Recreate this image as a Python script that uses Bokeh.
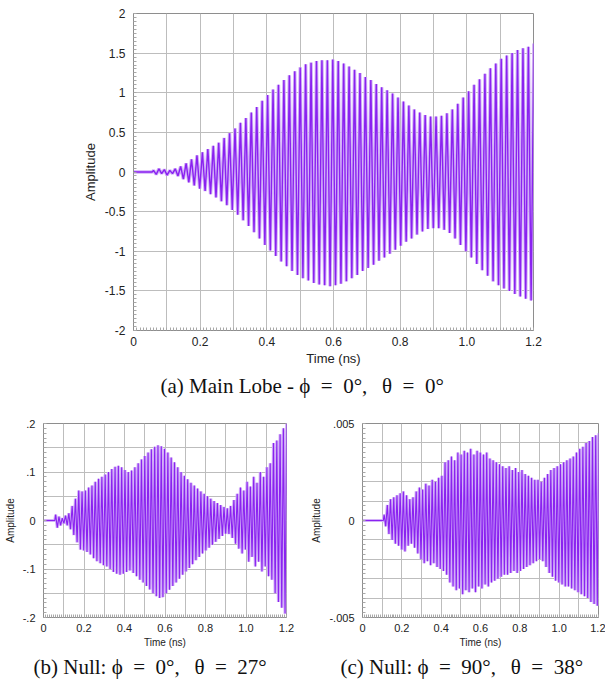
import numpy as np
from bokeh.plotting import figure
from bokeh.models import FixedTicker, LinearAxis, Range1d, Title
from bokeh.layouts import column, row
from bokeh.embed import file_html
from bokeh.resources import INLINE

# carrier period (ns between successive maxima)
period_ns = 0.0163

# (a) Main lobe: per-cycle positive and negative peaks
a_start = 0.06
a_upper = [0.02, 0.04, 0.03, 0.02, 0.04, 0.07, 0.11, 0.16, 0.21, 0.25,
           0.29, 0.33, 0.37, 0.43, 0.49, 0.55, 0.62, 0.68, 0.75, 0.82,
           0.90, 0.97, 1.04, 1.10, 1.16, 1.22, 1.27, 1.32, 1.36, 1.38,
           1.40, 1.41, 1.41, 1.42, 1.40, 1.37, 1.33, 1.29, 1.25, 1.20,
           1.16, 1.11, 1.07, 1.03, 0.99, 0.94, 0.89, 0.84, 0.79, 0.75,
           0.72, 0.70, 0.70, 0.71, 0.74, 0.79, 0.86, 0.94, 1.02, 1.10,
           1.17, 1.24, 1.31, 1.37, 1.43, 1.47, 1.50, 1.54, 1.56, 1.58, 1.62]
a_lower = [-0.03, -0.02, -0.04, -0.02, -0.05, -0.09, -0.13, -0.17, -0.21, -0.24,
           -0.28, -0.32, -0.37, -0.42, -0.48, -0.54, -0.61, -0.68, -0.76, -0.84,
           -0.92, -0.99, -1.06, -1.13, -1.19, -1.25, -1.30, -1.34, -1.37, -1.40,
           -1.42, -1.43, -1.44, -1.43, -1.41, -1.38, -1.34, -1.30, -1.25, -1.21,
           -1.17, -1.12, -1.08, -1.03, -0.98, -0.93, -0.88, -0.84, -0.79, -0.75,
           -0.72, -0.71, -0.71, -0.73, -0.77, -0.84, -0.92, -1.00, -1.08, -1.16,
           -1.24, -1.31, -1.38, -1.43, -1.47, -1.50, -1.54, -1.57, -1.60, -1.62, -1.65]

# (b) Null phi=0, theta=27
b_start = 0.06
b_upper = [0.012, 0.008, 0.005, 0.010, 0.015, 0.030, 0.045, 0.062, 0.060, 0.062,
           0.068, 0.072, 0.080, 0.086, 0.090, 0.095, 0.100, 0.106, 0.111, 0.113,
           0.110, 0.104, 0.100, 0.103, 0.110, 0.118, 0.126, 0.133, 0.140, 0.147,
           0.152, 0.155, 0.153, 0.148, 0.140, 0.130, 0.120, 0.110, 0.100, 0.092,
           0.085, 0.078, 0.072, 0.066, 0.060, 0.055, 0.050, 0.045, 0.040, 0.036,
           0.032, 0.028, 0.025, 0.030, 0.042, 0.055, 0.068, 0.062, 0.080, 0.070,
           0.090, 0.078, 0.100, 0.090, 0.110, 0.118, 0.160, 0.165, 0.178, 0.190, 0.200]
b_lower = [-0.015, -0.010, -0.006, -0.010, -0.018, -0.030, -0.045, -0.060, -0.062, -0.065,
           -0.070, -0.078, -0.084, -0.088, -0.092, -0.095, -0.100, -0.106, -0.110, -0.112,
           -0.110, -0.106, -0.103, -0.108, -0.115, -0.122, -0.128, -0.135, -0.142, -0.150,
           -0.156, -0.160, -0.158, -0.150, -0.143, -0.135, -0.128, -0.120, -0.112, -0.105,
           -0.098, -0.090, -0.082, -0.075, -0.068, -0.062, -0.056, -0.050, -0.044, -0.038,
           -0.032, -0.027, -0.028, -0.036, -0.048, -0.058, -0.068, -0.060, -0.085, -0.075,
           -0.095, -0.085, -0.105, -0.095, -0.115, -0.122, -0.150, -0.168, -0.180, -0.192, -0.195]

# (c) Null phi=90, theta=38
c_start = 0.11
c_upper = [0.0003, 0.0008, 0.0011, 0.0012, 0.0013, 0.0014, 0.0015, 0.0013, 0.0011, 0.0012,
           0.0015, 0.0017, 0.0016, 0.0019, 0.0018, 0.0021, 0.0020, 0.0022, 0.0023, 0.0030,
           0.0031, 0.0033, 0.0031, 0.0035, 0.0034, 0.0036, 0.0035, 0.0037, 0.0034, 0.0036,
           0.0035, 0.0034, 0.0035, 0.0032, 0.0031, 0.0030, 0.0029, 0.0028, 0.0027, 0.0028,
           0.0026, 0.0027, 0.0025, 0.0026, 0.0024, 0.0023, 0.0022, 0.0021, 0.0021, 0.0020,
           0.0022, 0.0024, 0.0026, 0.0027, 0.0028, 0.0029, 0.0030, 0.0031, 0.0032, 0.0033,
           0.0035, 0.0037, 0.0038, 0.0040, 0.0041, 0.0043, 0.0044, 0.0045]
c_lower = [-0.0003, -0.0007, -0.0010, -0.0012, -0.0013, -0.0015, -0.0016, -0.0013, -0.0012, -0.0014,
           -0.0017, -0.0020, -0.0022, -0.0021, -0.0023, -0.0022, -0.0024, -0.0025, -0.0026, -0.0028,
           -0.0032, -0.0034, -0.0036, -0.0035, -0.0038, -0.0036, -0.0037, -0.0035, -0.0037, -0.0034,
           -0.0035, -0.0033, -0.0034, -0.0032, -0.0031, -0.0030, -0.0029, -0.0028, -0.0028, -0.0027,
           -0.0026, -0.0027, -0.0026, -0.0025, -0.0024, -0.0023, -0.0022, -0.0021, -0.0020, -0.0021,
           -0.0024, -0.0027, -0.0029, -0.0031, -0.0032, -0.0033, -0.0034, -0.0034, -0.0035, -0.0036,
           -0.0037, -0.0038, -0.0039, -0.0040, -0.0042, -0.0043, -0.0044, -0.0046]

x_ticks = [0, 0.2, 0.4, 0.6, 0.8, 1.0, 1.2]
x_tick_labels = ["0", "0.2", "0.4", "0.6", "0.8", "1.0", "1.2"]
a_y_ticks = [2, 1.5, 1, 0.5, 0, -0.5, -1, -1.5, -2]
a_y_labels = ["2", "1.5", "1", "0.5", "0", "-0.5", "-1", "-1.5", "-2"]
b_y_ticks = [0.2, 0.1, 0, -0.1, -0.2]
b_y_labels = [".2", ".1", "0", "-.1", "-.2"]
c_y_ticks = [0.005, 0, -0.005]
c_y_labels = [".005", "0", "-.005"]

EN = "\u2002"
GAP = "\u2002\u2009"
captions = [f"(a) Main Lobe - \u03d5{EN}={EN}0\u00b0,{GAP}\u03b8{EN}={EN}0\u00b0",
            f"(b) Null: \u03d5{EN}={EN}0\u00b0,{GAP}\u03b8{EN}={EN}27\u00b0",
            f"(c) Null: \u03d5{EN}={EN}90\u00b0,{GAP}\u03b8{EN}={EN}38\u00b0"]

WAVE = "#8a22f0"
WAVE_LIGHT = "#d2b0f8"
GRID = "#bdbdbd"
FRAME = "#8e8e8e"
SANS = "Liberation Sans"
SERIF = "Liberation Serif"


def waveform(t0, upper, lower):
    xs = [0.0, t0 - period_ns / 4]
    ys = [0.0, 0.0]
    for k, (u, l) in enumerate(zip(upper, lower)):
        xs += [t0 + k * period_ns, t0 + (k + 0.5) * period_ns]
        ys += [u, l]
    return xs, ys


def make_fig(width, height, bl, br, bt, bb, ylim, yt, ylab, ygrid, yminor,
             tick_fs, lab_fs, cap, cap_off, cap_fs, cap_standoff):
    p = figure(width=width, height=height, output_backend="svg", toolbar_location=None,
               x_range=Range1d(0, 1.2), y_range=Range1d(*ylim),
               min_border_left=bl, min_border_right=br, min_border_top=bt,
               min_border_bottom=bb, x_axis_label="Time (ns)", y_axis_label="Amplitude")
    p.outline_line_color = FRAME
    p.outline_line_width = 1
    xminor = [round(i * 0.01, 3) for i in range(0, 121)]
    p.xaxis.ticker = FixedTicker(ticks=x_ticks, minor_ticks=xminor)
    p.xaxis.major_label_overrides = {t: s for t, s in zip(x_ticks, x_tick_labels)}
    p.yaxis.ticker = FixedTicker(ticks=yt, minor_ticks=yminor)
    p.yaxis.major_label_overrides = {t: s for t, s in zip(yt, ylab)}
    for ax in p.xaxis + p.yaxis:
        ax.axis_line_color = FRAME
        ax.major_tick_in = 0
        ax.major_tick_out = 0
        ax.minor_tick_in = 3
        ax.minor_tick_out = 0
        ax.minor_tick_line_color = "#a8a8a8"
        ax.major_label_text_font = SANS
        ax.major_label_text_font_size = f"{tick_fs}px"
        ax.major_label_text_color = "#222222"
        ax.axis_label_text_font = SANS
        ax.axis_label_text_font_size = f"{lab_fs}px"
        ax.axis_label_text_font_style = "normal"
        ax.axis_label_text_color = "#222222"
    p.xaxis.major_label_standoff = 6
    p.yaxis.major_label_standoff = 8
    p.xaxis.axis_label_standoff = 2
    p.yaxis.axis_label_standoff = 4
    p.xgrid.ticker = FixedTicker(ticks=[round(i * 0.1, 2) for i in range(13)])
    p.ygrid.ticker = FixedTicker(ticks=ygrid)
    p.xgrid.grid_line_color = GRID
    p.ygrid.grid_line_color = GRID
    p.background_fill_color = "white"
    p.border_fill_color = "white"
    t = Title(text=cap, align="left", offset=cap_off, text_font=SERIF,
              text_font_size=f"{cap_fs}px", text_font_style="normal",
              text_color="#111111", standoff=cap_standoff)
    p.add_layout(t, "below")
    return p


def draw(p, xs, ys, w):
    p.line(xs, ys, line_color=WAVE_LIGHT, line_width=w + 2.0)
    p.line(xs, ys, line_color=WAVE, line_width=w)


pa = make_fig(605, 400, 133, 72, 13, 67, (-2, 2), a_y_ticks, a_y_labels,
              [-2 + 0.5 * i for i in range(9)], [round(-2 + 0.05 * i, 3) for i in range(81)],
              12, 13, captions[0], 27, 21, 6)
xa, ya = waveform(a_start, a_upper, a_lower)
draw(pa, xa, ya, 1.4)

pb = make_fig(300, 284, 43, 14, 23, 66, (-0.2, 0.2), b_y_ticks, b_y_labels,
              [round(-0.2 + 0.05 * i, 3) for i in range(9)], [round(-0.2 + 0.01 * i, 3) for i in range(41)],
              11, 10, captions[1], -10, 21, 4)
xb, yb = waveform(b_start, b_upper, b_lower)
draw(pb, xb, yb, 1.1)

pc = make_fig(305, 284, 62, 7, 23, 67, (-0.005, 0.005), c_y_ticks, c_y_labels,
              [round(-0.005 + 0.001 * i, 4) for i in range(11)], [round(-0.005 + 0.00025 * i, 6) for i in range(41)],
              11, 10, captions[2], -22, 21, 4)
xc, yc = waveform(c_start, c_upper, c_lower)
draw(pc, xc, yc, 1.1)

layout = column(pa, row(pb, pc, spacing=0), spacing=0)
open("out.html", "w").write(file_html(layout, INLINE))
